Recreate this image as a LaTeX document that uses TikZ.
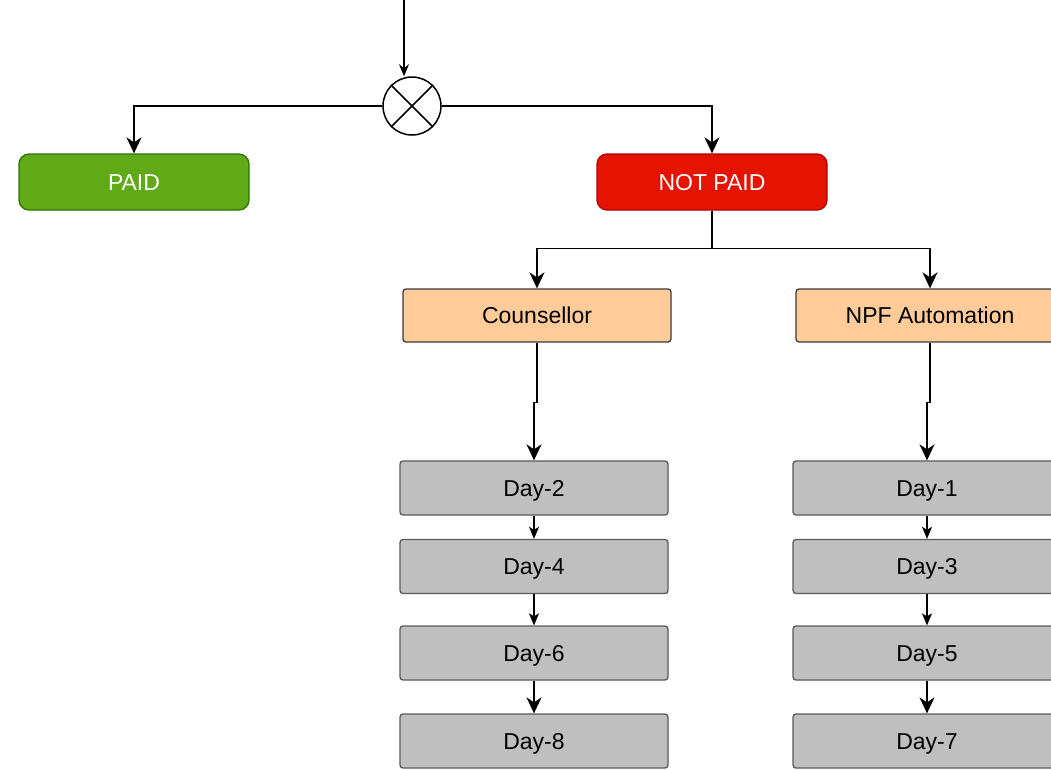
\documentclass[tikz,border=0pt]{standalone}
\usepackage{fontspec}
\setmainfont{Liberation Sans}
\usetikzlibrary{arrows.meta,calc}
\definecolor{paidfill}{HTML}{60A917}
\definecolor{paiddraw}{HTML}{2D7600}
\definecolor{npfill}{HTML}{E51400}
\definecolor{npdraw}{HTML}{B20000}
\definecolor{orfill}{HTML}{FFCC99}
\definecolor{ordraw}{HTML}{36393D}
\definecolor{dayfill}{HTML}{BFBFBF}
\definecolor{daydraw}{HTML}{5A5A5A}
\tikzset{
  box/.style={rectangle, inner sep=0pt, line width=1.3pt, font=\fontsize{23}{27}\selectfont, text height=16pt, text depth=0pt},
  status/.style={box, rounded corners=10pt, minimum width=230pt, minimum height=56pt, text=white},
  actor/.style={box, rounded corners=3pt, fill=orfill, draw=ordraw, minimum width=268pt, minimum height=53pt},
  daybox/.style={box, rounded corners=3pt, fill=dayfill, draw=daydraw, minimum width=268pt, minimum height=54pt},
  conn/.style={line width=1.6pt, -{Stealth[length=16pt,width=15pt,inset=5pt]}},
  shortconn/.style={line width=1.6pt, -{Stealth[length=12pt,width=10pt,inset=3pt]}},
}
\begin{document}
\begin{tikzpicture}[x=1pt,y=-1pt]
\clip (0,0) rectangle (1051,769);
\fill[white] (0,0) rectangle (1051,769);
\coordinate (top) at (404,0);
\node[circle, draw, line width=1.5pt, minimum size=58pt, inner sep=0pt, fill=white] (x) at (412,106) {};
\draw[line width=1.5pt] (x.north west) -- (x.south east) (x.north east) -- (x.south west);
\node[status, fill=paidfill, draw=paiddraw] (paid) at (134,182) {PAID};
\node[status, fill=npfill, draw=npdraw] (np) at (712,182) {NOT PAID};
\node[actor] (c) at (537,315.5) {Counsellor};
\node[actor] (n) at (930,315.5) {NPF Automation};
\node[daybox] (d2) at (534,488) {Day-2};
\node[daybox] (d4) at (534,566.5) {Day-4};
\node[daybox] (d6) at (534,653) {Day-6};
\node[daybox] (d8) at (534,741) {Day-8};
\node[daybox] (d1) at (927,488) {Day-1};
\node[daybox] (d3) at (927,566.5) {Day-3};
\node[daybox] (d5) at (927,653) {Day-5};
\node[daybox] (d7) at (927,741) {Day-7};
\draw[line width=1.6pt, -{Stealth[length=12pt,width=10pt,inset=4pt]}] (top) -- (404,0 |- x.north);
\draw[conn] (x.west) -| (paid.north);
\draw[conn] (x.east) -| (np.north);
\draw[conn] (np.south) -- ++(0,38) -| (c.north);
\draw[conn] (np.south) -- ++(0,38) -| (n.north);
\draw[conn] (c.south) -- ++(0,60) -| (d2.north);
\draw[conn] (n.south) -- ++(0,60) -| (d1.north);
\draw[shortconn] (d2) -- (d4);
\draw[shortconn] (d4) -- (d6);
\draw[conn] (d6) -- (d8);
\draw[shortconn] (d1) -- (d3);
\draw[shortconn] (d3) -- (d5);
\draw[conn] (d5) -- (d7);
\end{tikzpicture}
\end{document}
